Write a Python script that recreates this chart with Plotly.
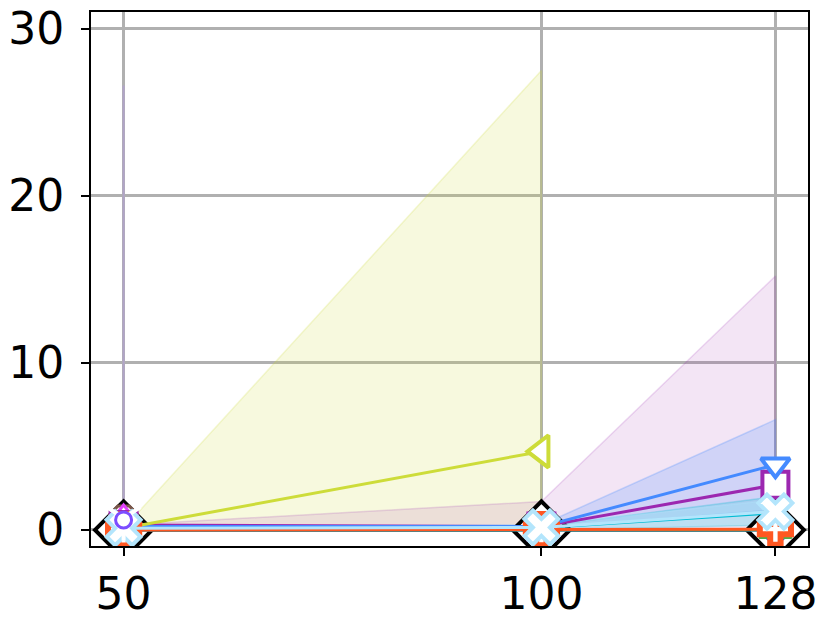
import plotly.graph_objects as go

x = [50, 100, 128]

# series: values at x = 50, 100, 128 (None = no point)
black_diamond = [0.0, 0.0, 0.0]
orange_plus = [0.0, 0.02, 0.05]
green_tri = [0.0, 0.0, 0.0]
blue_dot = [0.0, 0.0, 0.0]
lightblue_x = [0.1, 0.15, 1.1]
lightblue_x_hi = [0.1, 0.3, 1.8]
lightblue_x_lo = [0.1, 0.0, 0.4]
cyan_line = [0.05, 0.1, 1.0]
cyan_hi = [0.05, 0.2, 2.0]
cyan_lo = [0.05, 0.0, 0.3]
blue_tri = [0.2, 0.2, 3.9]
blue_hi = [0.2, 0.3, 6.6]
blue_lo = [0.2, 0.1, 1.2]
purple_sq = [0.3, 0.2, 2.7]
purple_hi = [0.3, 1.7, 15.2]
purple_lo = [0.0, 0.0, 0.0]
lime_tri = [0.1, 4.7, None]
lime_hi = [0.1, 27.5, None]
lime_lo = [0.0, 0.0, None]

# single-point series at x = 50
x50 = [50]
brown_oct = [0.6]
magenta_tri = [0.9]
slate_y = [0.7]
deep_purple = [0.6]
deep_purple_hi = [26.6]
deep_purple_lo = [0.0]


def rgba(hexc, a):
    h = hexc.lstrip("#")
    return "rgba(%d,%d,%d,%s)" % (int(h[0:2], 16), int(h[2:4], 16), int(h[4:6], 16), a)


fig = go.Figure()


def band(xs, hi, lo, color, a=0.15):
    pts = [(p, q, r) for p, q, r in zip(xs, hi, lo) if q is not None]
    xx = [p[0] for p in pts] + [p[0] for p in pts][::-1]
    yy = [p[1] for p in pts] + [p[2] for p in pts][::-1]
    fig.add_trace(go.Scatter(x=xx, y=yy, fill="toself", fillcolor=rgba(color, a),
                             line=dict(color=rgba(color, a + 0.05), width=1.5),
                             mode="lines", hoverinfo="skip", showlegend=False))


band(x, lime_hi, lime_lo, "#cddc39", 0.17)
band(x, purple_hi, purple_lo, "#9c27b0", 0.12)
band(x, blue_hi, blue_lo, "#448aff", 0.2)
band(x, cyan_hi, cyan_lo, "#00bcd4", 0.2)
band(x, lightblue_x_hi, lightblue_x_lo, "#b3e5fc", 0.3)
# degenerate band at x=50
fig.add_trace(go.Scatter(x=x50 + x50, y=deep_purple_lo + deep_purple_hi, mode="lines",
                         line=dict(color=rgba("#b39ddb", 0.6), width=2), showlegend=False))


def series(xs, ys, color, symbol, size, lw=3, mlw=3, fill="white"):
    fig.add_trace(go.Scatter(x=xs, y=ys, mode="lines+markers",
                             line=dict(color=color, width=lw),
                             marker=dict(symbol=symbol, size=size, color=fill,
                                         line=dict(color=color, width=mlw)),
                             showlegend=False))


series(x, black_diamond, "#000000", "diamond", 44, mlw=4)
series(x, blue_dot, "#1a33ff", "circle", 24, mlw=2, fill="#1a33ff")
series(x, green_tri, "#4caf50", "triangle-up", 28, mlw=4)
series(x50, brown_oct, "#795548", "octagon", 30)
series(x50, magenta_tri, "#e040fb", "triangle-up", 20)
series(x, cyan_line, "#00bcd4", "circle", 6, lw=2, mlw=1, fill="#00bcd4")
series(x, purple_sq, "#9c27b0", "square", 26, mlw=4)
series(x, blue_tri, "#448aff", "triangle-down", 25, mlw=4)
series(x, lime_tri, "#cddc39", "triangle-left", 28, mlw=4)
series(x, orange_plus, "#ff5722", "cross", 26, mlw=6)
series(x, lightblue_x, "#b3e5fc", "x", 30, mlw=4)
series(x50, slate_y, "#607d8b", "y-down-open", 28, mlw=4)
series(x50, deep_purple, "#7c4dff", "circle", 16)

axis = dict(showline=True, linecolor="black", linewidth=2, mirror=True,
            ticks="outside", ticklen=8, tickwidth=2, tickcolor="black",
            showgrid=True, gridcolor="#b0b0b0", gridwidth=2.5, zeroline=False,
            automargin=False,
            tickfont=dict(family="DejaVu Sans", size=44, color="black"))

fig.update_layout(
    width=832, height=624,
    margin=dict(l=91, r=24, t=12, b=78),
    plot_bgcolor="white", paper_bgcolor="white",
    xaxis=dict(axis, range=[46.1, 131.9], tickvals=x, ticktext=["50", "100", "128"],
               ticklabelstandoff=0),
    yaxis=dict(axis, range=[-0.96, 31.0], tickvals=[0, 10, 20, 30],
               ticklabelstandoff=8),
)

fig.write_html("out.html", config={"displayModeBar": False},
               post_script="document.body.style.margin = '0';")
